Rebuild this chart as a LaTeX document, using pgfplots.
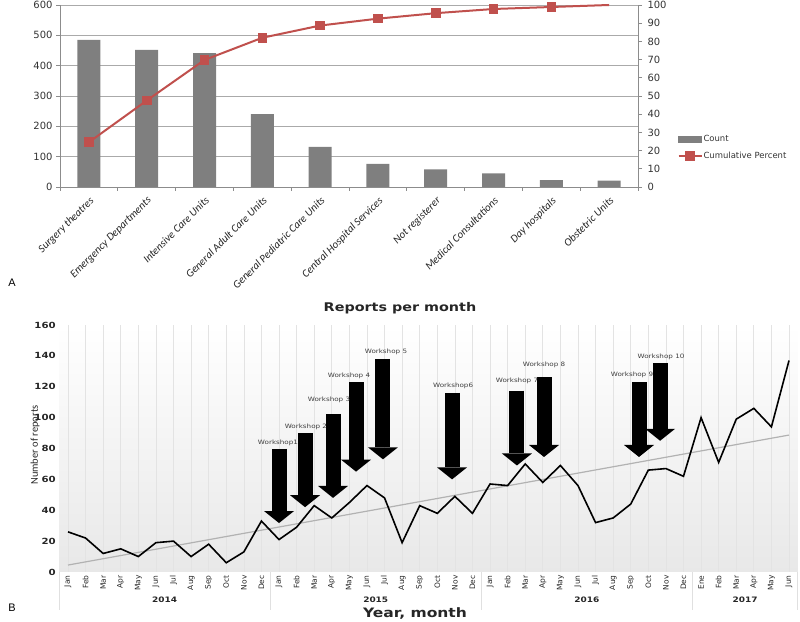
\documentclass[border=0pt]{standalone}
\usepackage{fontspec}
\setmainfont{DejaVu Sans}
\newfontfamily\carlito{Carlito}
\newfontfamily\libsans{Liberation Sans}
\newfontfamily\wide[FakeStretch=1.2]{DejaVu Sans}
\usepackage{pgfplots}
\usepackage{pgfplotstable}
\pgfplotsset{compat=1.18}
\usetikzlibrary{arrows.meta}

\definecolor{barGray}{RGB}{127,127,127}
\definecolor{cumRed}{RGB}{192,80,77}
\definecolor{gridGray}{RGB}{170,170,170}
\definecolor{axisGray}{RGB}{140,140,140}

% panel A: counts by unit and cumulative percent
\pgfplotstableread{
x count cum
1 485 24.6
2 452 47.5
3 441 69.8
4 240 82.0
5 132 88.7
6 76 92.5
7 58 95.5
8 45 97.8
9 23 98.9
10 21 100.0
}\paretoTable

% panel B: reports per month, Jan 2014 (0) to Jun 2017 (41)
\pgfplotstableread{
m reports
0 26
1 22
2 12
3 15
4 10
5 19
6 20
7 10
8 18
9 6
10 13
11 33
12 21
13 29
14 43
15 35
16 45
17 56
18 48
19 19
20 43
21 38
22 49
23 38
24 57
25 56
26 70
27 58
28 69
29 56
30 32
31 35
32 44
33 66
34 67
35 62
36 100
37 71
38 99
39 106
40 94
41 137
}\monthTable

\pgfplotstableread{
m trend
0 4.5
41 88.7
}\trendTable

\pgfplotstableread[col sep=comma]{
x,top,dv,lx,ly,label
12.00,79.7,-48.0,11.94,81.6,Workshop1
13.48,90.0,-48.0,13.53,92.0,Workshop 2
15.07,102.5,-54.5,14.84,109.5,Workshop 3
16.38,123.0,-58.0,15.98,125.0,Workshop 4
17.91,138.0,-65.0,18.08,140.0,Workshop 5
21.84,116.0,-56.0,21.90,118.5,Workshop6
25.53,117.5,-48.5,25.53,121.8,Workshop 7
27.07,126.0,-51.5,27.07,132.0,Workshop 8
32.47,123.0,-48.5,32.07,125.6,Workshop 9
33.67,135.5,-50.5,33.72,137.3,Workshop 10
}\workshopTable

\begin{document}
\begin{tikzpicture}
\useasboundingbox (0bp,0bp) rectangle (800bp,622bp);

% ---------- panel A ----------
\begin{axis}[
  at={(60bp,435bp)}, anchor=south west, scale only axis,
  width=578bp, height=182bp,
  xmin=0.5, xmax=10.5, ymin=0, ymax=600,
  ybar, bar width=23bp,
  axis x line*=bottom, axis y line*=left,
  axis line style={draw=axisGray, line width=0.8bp, -},
  ytick={0,100,...,600},
  ymajorgrids, major grid style={draw=gridGray, line width=0.8bp},
  xtick={1,...,10},
  xticklabels={Surgery theatres,Emergency Departments,Intensive Care Units,General Adult Care Units,General Pediatric Care Units,Central Hospital Services,Not registerer,Medical Consultations,Day hospitals,Obstetric Units},
  xticklabel style={rotate=45, anchor=north east, font=\carlito\itshape\fontsize{11}{13}\selectfont, text=black!85},
  xtick style={draw=none},
  minor xtick={0.5,1.5,...,10.5},
  minor x tick style={draw=axisGray, line width=0.8bp},
  minor tick length=4bp, major tick length=4bp,
  ytick style={draw=axisGray, line width=0.8bp},
  tick align=outside,
  yticklabel style={font=\fontsize{10}{12}\selectfont, text=black!80},
  /pgf/number format/assume math mode=true,
]
\addplot[fill=barGray, draw=none] table[x=x, y=count]{\paretoTable};
\end{axis}

\begin{axis}[
  at={(60bp,435bp)}, anchor=south west, scale only axis,
  width=578bp, height=182bp,
  xmin=0.5, xmax=10.5, ymin=0, ymax=100,
  axis x line=none, axis y line*=right,
  axis line style={draw=axisGray, line width=0.8bp, -},
  ytick={0,10,...,100},
  ytick style={draw=axisGray, line width=0.8bp},
  major tick length=4bp, tick align=outside,
  yticklabel style={font=\fontsize{10}{12}\selectfont, text=black!80, xshift=2bp},
  /pgf/number format/assume math mode=true,
  clip=false,
  legend style={at={(1.068,0.291)}, anchor=north west, draw=none, fill=none,
    font=\fontsize{8.5}{10}\selectfont, row sep=7bp, inner sep=0pt,
    nodes={inner sep=1bp, text=black!80}},
  legend cell align=left,
]
\addlegendimage{legend image code/.code={\fill[barGray] (0bp,-3bp) rectangle (23bp,3bp);}}
\addlegendentry{Count}
\addplot[cumRed, line width=2bp, mark=square*, mark size=3.8bp, mark indices={1,...,9},
  legend image code/.code={\draw[cumRed, line width=2bp] (0bp,0bp) -- (23bp,0bp);
    \fill[cumRed] (7.5bp,-3.8bp) rectangle (15.1bp,3.8bp);}]
  table[x=x, y=cum]{\paretoTable};
\addlegendentry{Cumulative Percent}
\end{axis}

% ---------- panel B ----------
\begin{axis}[
  at={(59.2bp,50bp)}, anchor=south west, scale only axis,
  width=738.6bp, height=247bp,
  xmin=-0.5, xmax=41.5, ymin=0, ymax=160,
  axis line style={draw=none},
  axis background/.style={top color=white, bottom color=black!9},
  ytick={0,20,...,160},
  yticklabel style={font=\wide\bfseries\fontsize{8.5}{10}\selectfont, text=black!85},
  /pgf/number format/assume math mode=true,
  xtick={0,...,41},
  xticklabels={Jan,Feb,Mar,Apr,May,Jun,Jul,Aug,Sep,Oct,Nov,Dec,Jan,Feb,Mar,Apr,May,Jun,Jul,Aug,Sep,Oct,Nov,Dec,Jan,Feb,Mar,Apr,May,Jun,Jul,Aug,Sep,Oct,Nov,Dec,Ene,Feb,Mar,Apr,May,Jun},
  xticklabel style={rotate=90, anchor=east, font=\fontsize{7.5}{8}\selectfont, text=black!85},
  major tick length=0pt,
  xmajorgrids, major grid style={draw=black!11, line width=0.7bp},
  clip=false,
]
\addplot[black!30, line width=1.2bp] table[x=m, y=trend]{\trendTable};
\addplot[black, line width=1.6bp] table[x=m, y=reports]{\monthTable};
\addplot[black, line width=15bp, quiver={u=0, v=\thisrow{dv}},
  -{Triangle[width=30bp, length=12bp, line width=0pt]}]
  table[x=x, y=top]{\workshopTable};
\addplot[draw=none, nodes near coords, point meta=explicit symbolic,
  every node near coord/.append style={font=\wide\fontsize{6}{7}\selectfont, text=black!75, inner sep=0.5bp}]
  table[x=lx, y=ly, meta=label]{\workshopTable};
\pgfplotsinvokeforeach{-0.5,11.5,23.5,35.5,41.5}{
  \draw[black!12, line width=0.8bp] (axis cs:#1,0) -- ++(0bp,-38bp);
}
\node[font=\wide\bfseries\fontsize{7.5}{9}\selectfont, text=black!85] at (axis cs:5.5,0) [yshift=-28bp] {2014};
\node[font=\wide\bfseries\fontsize{7.5}{9}\selectfont, text=black!85] at (axis cs:17.5,0) [yshift=-28bp] {2015};
\node[font=\wide\bfseries\fontsize{7.5}{9}\selectfont, text=black!85] at (axis cs:29.5,0) [yshift=-28bp] {2016};
\node[font=\wide\bfseries\fontsize{7.5}{9}\selectfont, text=black!85] at (axis cs:38.5,0) [yshift=-28bp] {2017};
\end{axis}

% titles and panel letters
\node[font=\wide\bfseries\fontsize{12}{14}\selectfont, text=black!85] at (400bp,314bp) {Reports per month};
\node[font=\wide\bfseries\fontsize{13}{15}\selectfont, text=black!85] at (415bp,9bp) {Year, month};
\node[font=\carlito\fontsize{10.5}{12}\selectfont, rotate=90, text=black!85] at (35bp,177bp) {Number of reports};
\node[font=\libsans\fontsize{11}{13}\selectfont] at (12bp,339bp) {A};
\node[font=\libsans\fontsize{11}{13}\selectfont] at (12bp,14bp) {B};
\end{tikzpicture}
\end{document}
